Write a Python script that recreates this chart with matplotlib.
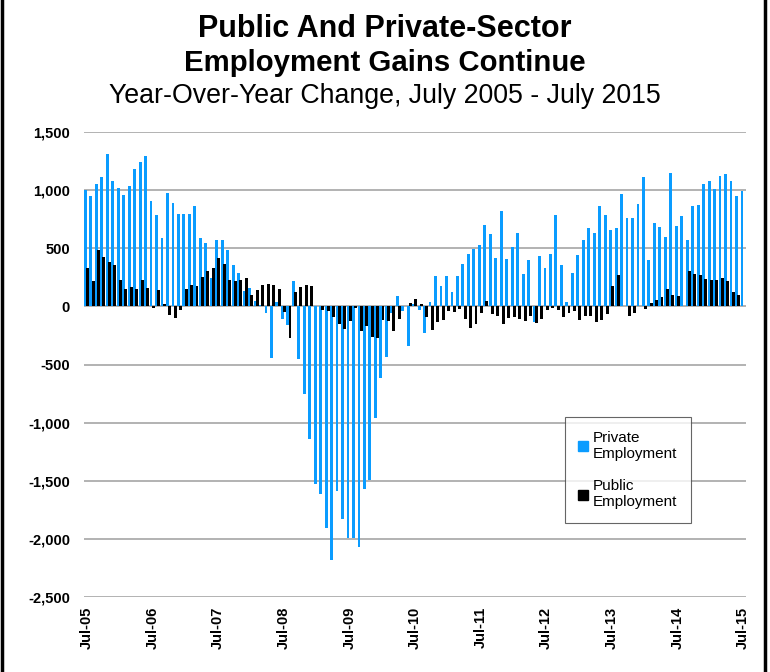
import matplotlib
matplotlib.use("Agg")
import matplotlib.pyplot as plt
from matplotlib.lines import Line2D
import numpy as np

plt.rcParams['font.family'] = ['Liberation Sans', 'DejaVu Sans']

# Monthly year-over-year change (thousands), Jul-2005 .. Jul-2015
private = [
    1000, 950, 1055, 1115, 1315, 1075, 1015, 955, 1035, 1180,
    1245, 1295, 905, 790, 585, 975, 890, 795, 795, 795,
    865, 585, 545, 245, 575, 575, 485, 355, 285, 135,
    155, 45, 10, -60, -445, 35, -105, -160, 215, -450,
    -750, -1140, -1530, -1610, -1905, -2180, -1590, -1830, -1995, -1995,
    -2070, -1570, -1490, -960, -620, -435, -60, 90, -40, -340,
    20, -30, -225, 35, 265, 175, 260, 125, 265, 365,
    450, 495, 530, 700, 620, 415, 820, 410, 510, 630,
    280, 400, -135, 430, 330, 450, 790, 355, 35, 290,
    440, 570, 670, 630, 860, 790, 655, 670, 970, 760,
    760, 880, 1110, 400, 720, 680, 600, 1150, 690, 780,
    570, 860, 870, 1050, 1080, 1010, 1120, 1135, 1080, 950,
    990,
]
public = [
    330, 220, 485, 425, 380, 355, 230, 150, 170, 150,
    230, 160, -17, 140, 17, -77, -100, -32, 150, 185,
    176, 256, 308, 329, 418, 366, 228, 219, 228, 248,
    98, 138, 187, 196, 184, 147, -52, -271, 127, 164,
    181, 172, 5, -29, -40, -90, -150, -193, -123, -10,
    -210, -170, -262, -270, -118, -130, -210, -108, 5, 32,
    65, 17, -95, -201, -132, -121, -37, -46, -26, -112,
    -184, -155, -60, 49, -66, -83, -155, -101, -95, -106,
    -124, -81, -141, -112, -32, -12, -32, -89, -61, -43,
    -121, -84, -81, -133, -121, -63, 176, 268, 0, -81,
    -61, 0, -20, 29, 55, 78, 147, 95, 89, 0,
    305, 277, 268, 236, 228, 228, 248, 216, 127, 98,
    0,
]
tick_labels = ["Jul-05", "Jul-06", "Jul-07", "Jul-08", "Jul-09", "Jul-10",
               "Jul-11", "Jul-12", "Jul-13", "Jul-14", "Jul-15"]
y_ticks = [1500, 1000, 500, 0, -500, -1000, -1500, -2000, -2500]

BLUE = "#0A9CFF"
n = len(private)
x = np.arange(n)

fig = plt.figure(figsize=(7.7, 6.72), dpi=100)
ax = fig.add_axes([84/770, 1-597/672, 662/770, 465/672])

ax.bar(x - 0.245, private, width=0.52, color=BLUE, zorder=2)
ax.bar(x + 0.15, public, width=0.54, color="black", zorder=3)

ax.set_xlim(-0.5, n - 0.5)
ax.set_ylim(-2500, 1500)
ax.set_yticks(y_ticks)
ax.set_yticklabels([f"{v:,}" for v in y_ticks], fontsize=10.5, fontweight="bold")
ax.set_xticks(np.arange(0, n, 12))
ax.set_xticklabels(tick_labels, rotation=90, fontsize=10.5, fontweight="bold")
ax.tick_params(axis="y", length=0, pad=10)
ax.tick_params(axis="x", length=0, pad=7)
ax.grid(axis="y", color="#A6A6A6", linewidth=1.2, zorder=0)
ax.set_axisbelow(True)
for s in ax.spines.values():
    s.set_visible(False)

fig.text(0.5, 1-29/672, "Public And Private-Sector", ha="center", va="center",
         fontsize=22, fontweight="bold")
fig.text(0.5, 1-63/672, "Employment Gains Continue", ha="center", va="center",
         fontsize=21.2, fontweight="bold")
fig.text(0.5, 1-96/672, "Year-Over-Year Change, July 2005 - July 2015", ha="center",
         va="center", fontsize=19.3)

handles = [Line2D([], [], marker="s", linestyle="none", markersize=7, color=BLUE),
           Line2D([], [], marker="s", linestyle="none", markersize=7, color="black")]
leg = fig.legend(handles, ["Private\nEmployment", "Public\nEmployment"],
                 loc="upper left", bbox_to_anchor=(565/770, 1-417/672),
                 borderaxespad=0, frameon=True, fancybox=False, fontsize=11,
                 handlelength=0.6, handletextpad=0.3, labelspacing=1.2, borderpad=0.9)
leg.get_frame().set_edgecolor("#404040")
leg.get_frame().set_linewidth(0.8)

# figure frame
fig.add_artist(Line2D([2/770, 2/770], [0, 1], transform=fig.transFigure, color="black", lw=2.5))
fig.add_artist(Line2D([765/770, 765/770], [0, 1], transform=fig.transFigure, color="black", lw=2.5))

fig.savefig("out.png", dpi=100)
